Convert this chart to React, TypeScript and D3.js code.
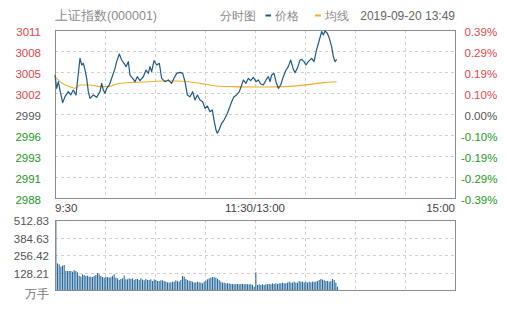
import React from "react";
import * as d3 from "d3";

// ---- data ----
const title = "上证指数(000001)";
const chartName = "分时图";
const legendPrice = "价格";
const legendAvg = "均线";
const stamp = "2019-09-20 13:49";
const prevClose = 2999.28;
const pctRange = 0.0039;
const leftTicks = ["3011", "3008", "3005", "3002", "2999", "2996", "2993", "2991", "2988"];
const rightTicks = ["0.39%", "0.29%", "0.19%", "0.10%", "0.00%", "-0.10%", "-0.19%", "-0.29%", "-0.39%"];
const volTicks = ["512.83", "384.63", "256.42", "128.21"];
const volMax = 512.83;
const volUnit = "万手";
const timeLabels = ["9:30", "11:30/13:00", "15:00"];
const timeLabelMinutes = [0, 120, 240];

const priceMinutes = [0, 1, 2, 3, 4.6, 6, 8, 9.4, 11, 12.6, 14, 15, 16, 17, 18, 19, 20, 21, 23, 25, 27, 28, 29, 30, 31, 32.6, 34, 36, 37, 38.6, 40, 41.4, 42.6, 44, 45, 46.6, 48, 49.4, 51, 53, 54.6, 56, 57, 58, 59.4, 61, 62.6, 64, 66, 68, 70, 71.4, 73, 75, 76.6, 78, 79.4, 81, 82.6, 84, 85.4, 87, 88.6, 90, 91.4, 93, 94.4, 95.4, 96.6, 97.4, 98.6, 100, 101.4, 103, 104.6, 106, 107.4, 109, 110.6, 112, 113, 114.6, 116, 117.4, 119, 120.6, 122, 123.4, 125, 126.6, 128, 129, 130, 131.4, 132.6, 134, 135.4, 137, 138.6, 140, 141.4, 143, 144, 145.4, 147, 148, 149.4, 150.6, 152, 154, 155.4, 157, 158.6, 160, 161, 162, 163.4, 164.6, 166, 167, 168, 169];
const priceValues = [3004.71, 3002.86, 3003.78, 3002.62, 3000.86, 3001.69, 3002.39, 3001.93, 3002.62, 3001.93, 3004.94, 3007.03, 3006.11, 3006.34, 3005.41, 3004.25, 3002.39, 3001.46, 3001.93, 3001.6, 3002.39, 3003.55, 3002.62, 3002.16, 3002.86, 3003.32, 3004.25, 3005.64, 3006.57, 3007.64, 3006.8, 3006.34, 3005.87, 3006.57, 3004.71, 3004.25, 3003.78, 3004.48, 3003.92, 3004.48, 3005.41, 3004.94, 3005.87, 3005.18, 3006.71, 3006.11, 3006.34, 3004.25, 3003.78, 3004.02, 3003.55, 3004.25, 3004.94, 3005.08, 3004.94, 3003.78, 3001.93, 3001.69, 3002.39, 3001.23, 3001.93, 3001.23, 3000.99, 3000.07, 3000.39, 2999.6, 2999.84, 2998.44, 2997.05, 2996.59, 2997.14, 2997.98, 2998.44, 2999.14, 3000.07, 3000.99, 3001.69, 3001.93, 3002.39, 3003.32, 3004.02, 3003.55, 3004.25, 3003.92, 3004.39, 3003.78, 3004.02, 3003.46, 3003.32, 3004.02, 3004.48, 3003.78, 3004.71, 3004.94, 3003.78, 3002.86, 3003.32, 3004.48, 3005.41, 3005.87, 3006.8, 3005.5, 3005.04, 3005.64, 3006.8, 3006.89, 3006.57, 3006.11, 3006.57, 3007.03, 3006.57, 3008.29, 3009.59, 3010.75, 3010.28, 3010.84, 3010.52, 3009.82, 3008.66, 3007.27, 3006.57, 3006.89];

const avgMinutes = [0, 4, 9, 12, 15, 21, 27, 32, 37, 47, 57, 67, 77, 87, 97, 107, 117, 127, 137, 145, 153, 161, 169];
const avgValues = [3004.48, 3003.6, 3003.09, 3002.86, 3003.32, 3003.32, 3003.09, 3003.09, 3003.46, 3003.69, 3003.78, 3003.92, 3003.85, 3003.55, 3003.18, 3003.09, 3003.05, 3003.05, 3003.09, 3003.2, 3003.41, 3003.65, 3003.78];

const volumes = [512.83,
  195, 188, 171, 178, 183, 139, 139, 139, 139, 134, 144, 139, 129, 105, 98, 115, 110, 103, 105, 98,
  98, 95, 103, 110, 125, 115, 103, 95, 90, 95, 95, 90, 95, 103, 115, 90, 85, 73, 81, 85,
  105, 78, 78, 85, 81, 85, 73, 81, 81, 73, 85, 76, 71, 81, 73, 73, 78, 66, 78, 73,
  66, 66, 71, 71, 66, 61, 56, 54, 56, 61, 61, 71, 66, 61, 73, 103, 98, 81, 73, 68,
  66, 61, 54, 56, 61, 56, 54,
  49, 61, 68, 78, 85, 90, 95, 93, 90, 81, 73, 61, 54, 54, 49, 49, 49, 44, 44, 42,
  44, 44, 42, 44, 44, 42, 44, 42, 42, 42, 37, 24,
  129,
  37, 42, 37, 42, 37, 42, 42, 44, 42, 49, 44, 49, 44, 49, 49, 54, 49, 49, 54, 61,
  54, 54, 61, 54, 54, 66, 61, 61, 56, 61, 54, 61, 56, 61, 61, 61, 66, 73, 81, 76,
  71, 66, 66, 61, 66, 81, 73, 54, 24];

// ---- layout ----
const W = 505, H = 310;
const L = 55, R = 455;
const mainTop = 30, mainBot = 198;
const volTop = 220, volBot = 290;
const RED = "#e0474c", GREEN = "#1d981d", GRAY = "#555";
const FONT = "Arial, 'Liberation Sans', sans-serif";

export default function App() {
  const x = d3.scaleLinear().domain([0, 240]).range([L, R]);
  const y = d3.scaleLinear().domain([prevClose * (1 - pctRange), prevClose * (1 + pctRange)]).range([mainBot, mainTop]);
  const yv = d3.scaleLinear().domain([0, volMax]).range([volBot, volTop]);
  const yTickPos = d3.range(leftTicks.length).map((i) => mainTop + (i * (mainBot - mainTop)) / (leftTicks.length - 1));
  const vTickPos = d3.range(4).map((i) => volTop + (i * (volBot - volTop)) / 4);
  const vGrid = d3.range(1, 8).map((i) => x(i * 30));

  const priceLine = d3.line<number>().x((_, i) => x(priceMinutes[i])).y((d) => y(d)).curve(d3.curveLinear)(priceValues) || "";
  const avgLine = d3.line<number>().x((_, i) => x(avgMinutes[i])).y((d) => y(d)).curve(d3.curveMonotoneX)(avgValues) || "";

  const colorFor = (i: number) => (i < 4 ? RED : i === 4 ? GRAY : GREEN);

  return (
    <svg width={W} height={H} style={{ position: "absolute", left: 0, top: 0, background: "#fff" }} fontFamily={FONT}>
      {/* header */}
      <text x={55} y={20} fontSize={12.5} fill="#8a8a8a">{title}</text>
      <text x={220} y={20} fontSize={12} fill="#8a8a8a">{chartName}</text>
      <line x1={265.5} x2={271} y1={15.5} y2={15.5} stroke="#1e5a85" strokeWidth={2} />
      <text x={275} y={20} fontSize={12} fill="#8a8a8a">{legendPrice}</text>
      <line x1={315} x2={321} y1={15.5} y2={15.5} stroke="#f2ad2e" strokeWidth={2} />
      <text x={325} y={20} fontSize={12} fill="#8a8a8a">{legendAvg}</text>
      <text x={455} y={20} fontSize={12} fill="#666" textAnchor="end">{stamp}</text>

      {/* main grid */}
      {yTickPos.slice(1, -1).map((p, i) => (
        <line key={"hg" + i} x1={L} x2={R} y1={Math.round(p) + 0.5} y2={Math.round(p) + 0.5} stroke="#d0d0d0" strokeDasharray="3,3" />
      ))}
      {vGrid.map((p, i) => (
        <line key={"vg" + i} x1={Math.round(p) + 0.5} x2={Math.round(p) + 0.5} y1={mainTop} y2={mainBot} stroke="#d0d0d0" strokeDasharray="3,3" />
      ))}
      <rect x={L + 0.5} y={mainTop + 0.5} width={R - L} height={mainBot - mainTop} fill="none" stroke="#8c8c8c" />

      {/* lines */}
      <path d={avgLine} fill="none" stroke="#f2ad2e" strokeWidth={1.1} />
      <path d={priceLine} fill="none" stroke="#1e5a85" strokeWidth={1.2} strokeLinejoin="round" />

      {/* y labels */}
      {leftTicks.map((t, i) => (
        <text key={"lt" + i} x={41} y={yTickPos[i] + 6} fontSize={11.5} fill={colorFor(i)} textAnchor="end">{t}</text>
      ))}
      {rightTicks.map((t, i) => (
        <text key={"rt" + i} x={t.startsWith("-") ? 461 : 464.5} y={yTickPos[i] + 6} fontSize={11.5} fill={colorFor(i)}>{t}</text>
      ))}

      {/* time labels */}
      {timeLabels.map((t, i) => (
        <text key={"tl" + i} x={x(timeLabelMinutes[i])} y={212} fontSize={11.5} fill="#444"
          textAnchor={i === 0 ? "start" : i === timeLabels.length - 1 ? "end" : "middle"}>{t}</text>
      ))}

      {/* volume panel */}
      {vTickPos.slice(1).map((p, i) => (
        <line key={"vhg" + i} x1={L} x2={R} y1={Math.round(p) + 0.5} y2={Math.round(p) + 0.5} stroke="#d0d0d0" strokeDasharray="3,3" />
      ))}
      {vGrid.map((p, i) => (
        <line key={"vvg" + i} x1={Math.round(p) + 0.5} x2={Math.round(p) + 0.5} y1={volTop} y2={volBot} stroke="#d0d0d0" strokeDasharray="3,3" />
      ))}
      {volumes.map((v, i) => (
        <rect key={"vb" + i} x={x(i) + 0.3} y={yv(v)} width={1.1} height={volBot - yv(v)} fill="#2a6a9c" />
      ))}
      <rect x={L + 0.5} y={volTop + 0.5} width={R - L} height={volBot - volTop} fill="none" stroke="#8c8c8c" />
      {volTicks.map((t, i) => (
        <text key={"vt" + i} x={49} y={vTickPos[i] + 5} fontSize={11.5} fill={GRAY} textAnchor="end">{t}</text>
      ))}
      <text x={49} y={298} fontSize={11.5} fill="#777" textAnchor="end">{volUnit}</text>
    </svg>
  );
}
